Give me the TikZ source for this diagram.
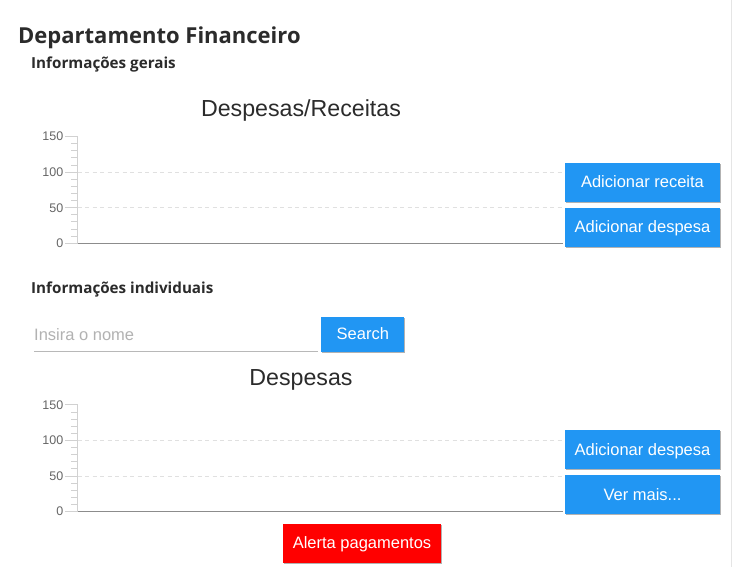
\documentclass[tikz,border=0pt]{standalone}
\usepackage{fontspec}
\setmainfont{Liberation Sans}
\newfontfamily\tituloFont{Open Sans}
\usetikzlibrary{shadows}
\definecolor{azul}{HTML}{2196F3}
\definecolor{vermelho}{HTML}{FF0000}
\definecolor{escuro}{HTML}{2B2B2B}
\definecolor{cinza}{HTML}{666666}
\tikzstyle{titulo}=[font=\tituloFont\bfseries\fontsize{22}{26}\selectfont, text=escuro,
	inner sep=0pt, anchor=base west]
\tikzstyle{subtitulo}=[titulo, font=\tituloFont\bfseries\fontsize{15.2}{17}\selectfont]
\tikzstyle{grafTitulo}=[font=\fontsize{23.2}{26}\selectfont, text=escuro, inner sep=0pt,
	anchor=base]
\tikzstyle{rotulo}=[font=\fontsize{12.5}{14}\selectfont, text=cinza, inner sep=0pt,
	anchor=east]
\tikzstyle{botao}=[fill=azul, text=white, font=\fontsize{16.5}{18}\selectfont,
	minimum width=155pt, minimum height=39pt, inner sep=0pt, text height=12pt,
	text depth=1pt, drop shadow={shadow xshift=0.5pt, shadow yshift=-1.2pt,
	opacity=0.3, fill=black}]
\tikzstyle{eixoY}=[draw, color=black!18, line width=1pt]
\tikzstyle{eixoX}=[draw, color=black!45, line width=1.2pt]
\tikzstyle{grade}=[draw, color=black!12, line width=0.9pt, dash pattern=on 4pt off 3.5pt]
\newcommand{\myBtn}[3]{node (b#1) [botao,#2]
	{#3}}
\newcommand{\grafico}[2]{%
	% Dashed grid lines
	\foreach \v in {50,100}
		\path [grade] (77.5,{#2-\v*0.711}) -- (562,{#2-\v*0.711});
	% Small ticks every 10
	\foreach \v in {10,20,...,150}
		\path [eixoY] (71,{#2-\v*0.711}) -- (77.5,{#2-\v*0.711});
	% Big ticks and their labels
	\foreach \v in {0,50,100,150}{
		\path [eixoY] (65,{#2-\v*0.711}) -- (77.5,{#2-\v*0.711});
		\node (#1\v) [rotulo] at (63.5,{#2-\v*0.711}) {\v};
	}
	% Axes
	\path [eixoY] (77.5,#2) -- (77.5,{#2-106.6});
	\path [eixoX] (77.5,#2) -- (562.5,#2);
}

\begin{document}
\begin{tikzpicture}[x=1pt,y=-1pt]
	\useasboundingbox (0,0) rectangle (733,567);
	\fill [white] (0,0) rectangle (733,567);
	\path [draw, color=black!10, line width=1pt] (731.5,0) -- (731.5,567);

	% Headers
	\path (18,44) node (t1) [titulo] {Departamento Financeiro};
	\path (31,69) node (t2) [subtitulo] {Informações gerais};
	\path (301,117) node (t3) [grafTitulo] {Despesas/Receitas};

	% First chart
	\grafico{ga}{243.3}
	\path (642.5,182.2) \myBtn{1}{}{Adicionar receita};
	\path (b1.south)+(0,25.1) \myBtn{2}{}{Adicionar despesa};

	% Search by name
	\path (31,293) node (t4) [subtitulo] {Informações individuais};
	\path (34,340) node (entrada) [anchor=base west, inner sep=0pt, text=black!30,
		font=\fontsize{16.5}{18}\selectfont] {Insira o nome};
	\path [draw, color=black!28, line width=1pt] (34,351.2) -- (318,351.2);
	\path (362.8,334.2) \myBtn{3}{minimum width=83pt, minimum height=35pt}{Search};

	% Second chart
	\path (301,385) node (t5) [grafTitulo] {Despesas};
	\grafico{gb}{511.6}
	\path (642.5,449.5) \myBtn{4}{}{Adicionar despesa};
	\path (b4.south)+(0,25.3) \myBtn{5}{}{Ver mais...};
	\path (362,543.3) \myBtn{6}{fill=vermelho, minimum width=158pt}{Alerta pagamentos};

\end{tikzpicture}
\end{document}
